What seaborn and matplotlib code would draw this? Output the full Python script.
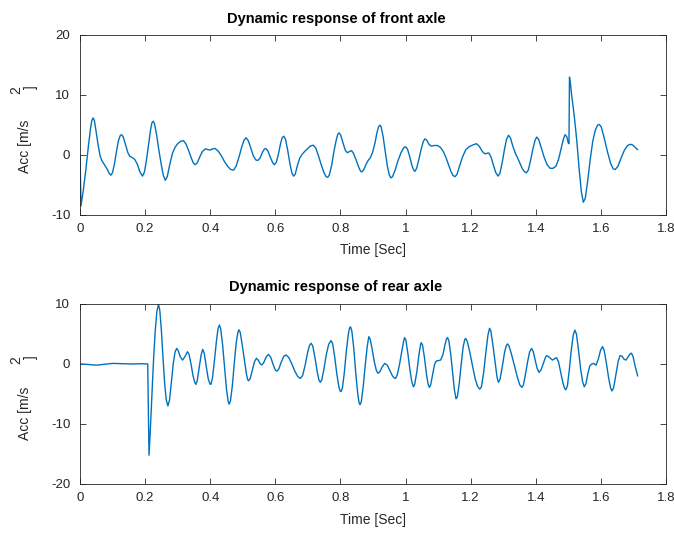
import numpy as np
import pandas as pd
import matplotlib
matplotlib.use("Agg")
import matplotlib.pyplot as plt
import seaborn as sns

# ---------------- data ----------------
front_t = [0, 0.003, 0.010, 0.018, 0.026, 0.032, 0.036, 0.040, 0.044, 0.049, 0.055, 0.062,
           0.068, 0.075, 0.083, 0.090, 0.095, 0.100, 0.106, 0.112, 0.118, 0.124, 0.128, 0.133,
           0.140, 0.147, 0.153, 0.160, 0.168, 0.176, 0.184, 0.192, 0.198, 0.204, 0.211, 0.217,
           0.221, 0.225, 0.229, 0.235, 0.242, 0.250, 0.256, 0.262, 0.268, 0.276, 0.284, 0.292,
           0.300, 0.309, 0.318, 0.326, 0.334, 0.342, 0.348, 0.354, 0.360, 0.368, 0.376, 0.385,
           0.393, 0.400, 0.408, 0.415, 0.424, 0.434, 0.444, 0.454, 0.463, 0.472, 0.480, 0.489,
           0.497, 0.504, 0.510, 0.517, 0.525, 0.533, 0.540, 0.546, 0.553, 0.560, 0.566, 0.571,
           0.577, 0.585, 0.592, 0.597, 0.603, 0.610, 0.616, 0.621, 0.626, 0.631, 0.638, 0.645,
           0.651, 0.656, 0.661, 0.668, 0.675, 0.682, 0.690, 0.698, 0.707, 0.716, 0.724, 0.733,
           0.742, 0.750, 0.756, 0.761, 0.766, 0.773, 0.780, 0.787, 0.792, 0.796, 0.801, 0.808,
           0.815, 0.821, 0.828, 0.834, 0.840, 0.848, 0.856, 0.862, 0.866, 0.871, 0.878, 0.885,
           0.892, 0.899, 0.906, 0.912, 0.917, 0.921, 0.925, 0.931, 0.938, 0.944, 0.950, 0.955,
           0.960, 0.968, 0.977, 0.986, 0.994, 1.000, 1.006, 1.013, 1.020, 1.025, 1.029, 1.034,
           1.041, 1.048, 1.054, 1.059, 1.065, 1.072, 1.079, 1.088, 1.098, 1.107, 1.116, 1.124,
           1.132, 1.140, 1.146, 1.152, 1.158, 1.166, 1.175, 1.185, 1.195, 1.207, 1.218, 1.226,
           1.236, 1.244, 1.250, 1.256, 1.263, 1.270, 1.277, 1.284, 1.290, 1.297, 1.304, 1.310,
           1.316, 1.322, 1.330, 1.338, 1.344, 1.351, 1.359, 1.366, 1.371, 1.377, 1.384, 1.391,
           1.398, 1.403, 1.409, 1.417, 1.426, 1.435, 1.444, 1.453, 1.462, 1.470, 1.478, 1.485,
           1.490, 1.495, 1.500, 1.502, 1.5035, 1.507, 1.510, 1.518, 1.526, 1.533, 1.540, 1.546,
           1.552, 1.559, 1.567, 1.575, 1.583, 1.590, 1.595, 1.601, 1.610, 1.620, 1.630, 1.638,
           1.644, 1.652, 1.662, 1.672, 1.682, 1.690, 1.697, 1.705, 1.713]
front_acc = [0, -8.6, -6.0, -2.5, 1.5, 4.2, 5.6, 6.1, 5.7, 4.0, 1.8, -0.3,
             -1.1, -1.7, -2.4, -3.2, -3.45, -3.0, -1.5, 0.5, 2.3, 3.2, 3.3, 2.9,
             1.6, 0.3, -0.3, -0.5, -0.8, -1.6, -2.9, -3.6, -2.9, -1.0, 1.8, 4.2,
             5.3, 5.55, 5.1, 3.4, 0.8, -1.8, -3.5, -4.3, -3.7, -1.6, 0.2, 1.2,
             1.8, 2.2, 2.3, 1.7, 0.6, -0.6, -1.4, -1.7, -1.4, -0.4, 0.5, 0.95,
             0.8, 0.75, 0.95, 1.0, 0.6, -0.2, -1.2, -2.0, -2.5, -2.6, -1.9, -0.3,
             1.3, 2.4, 2.8, 2.3, 1.0, -0.3, -0.9, -1.0, -0.6, 0.3, 0.9, 1.0,
             0.6, -0.5, -1.4, -1.7, -1.3, 0.2, 1.8, 2.8, 3.05, 2.6, 0.7, -1.6,
             -3.1, -3.6, -3.3, -1.8, -0.6, 0.0, 0.5, 0.9, 1.4, 1.55, 1.1, -0.3,
             -1.9, -3.1, -3.7, -3.8, -3.4, -1.8, 0.5, 2.4, 3.4, 3.6, 3.2, 1.9,
             0.7, 0.3, 0.5, 0.65, 0.2, -0.9, -2.1, -2.8, -2.9, -2.6, -1.7, -1.0,
             -0.5, 0.4, 1.9, 3.6, 4.6, 4.9, 4.6, 3.0, 0.4, -1.9, -3.4, -3.9,
             -3.7, -2.6, -1.0, 0.3, 1.1, 1.3, 0.9, -0.4, -1.9, -2.6, -2.8, -2.3,
             -0.8, 0.9, 2.1, 2.6, 2.4, 1.7, 1.4, 1.5, 1.5, 1.2, 0.5, -0.5,
             -1.7, -2.9, -3.5, -3.7, -3.3, -1.9, -0.4, 0.8, 1.3, 1.6, 1.8, 1.4,
             0.5, 0.1, 0.2, 0.25, -0.5, -1.8, -3.0, -3.6, -3.1, -1.3, 0.9, 2.5,
             3.2, 2.8, 1.3, 0.1, -0.55, -1.4, -2.4, -2.9, -3.05, -2.6, -1.0, 0.9,
             2.4, 2.9, 2.5, 1.1, -0.5, -1.7, -2.3, -2.3, -1.95, -0.8, 1.0, 2.6,
             3.3, 3.0, 1.9, 1.8, 12.9, 11.6, 10.0, 6.5, 2.3, -2.3, -6.2, -7.95,
             -7.3, -4.6, -0.9, 2.2, 4.1, 4.9, 5.0, 4.6, 2.8, 0.5, -1.5, -2.4,
             -2.5, -2.0, -0.6, 0.7, 1.5, 1.7, 1.6, 1.2, 0.8]

rear_t = [0, 0.02, 0.05, 0.075, 0.10, 0.13, 0.16, 0.19, 0.208, 0.212, 0.216, 0.221,
          0.226, 0.231, 0.236, 0.241, 0.245, 0.250, 0.255, 0.260, 0.265, 0.270, 0.275, 0.281,
          0.287, 0.292, 0.297, 0.302, 0.308, 0.315, 0.322, 0.330, 0.335, 0.341, 0.347, 0.352,
          0.356, 0.360, 0.366, 0.372, 0.377, 0.382, 0.388, 0.394, 0.399, 0.402, 0.407, 0.413,
          0.419, 0.424, 0.428, 0.432, 0.438, 0.444, 0.450, 0.455, 0.458, 0.462, 0.468, 0.474,
          0.480, 0.485, 0.488, 0.492, 0.498, 0.505, 0.511, 0.515, 0.518, 0.523, 0.530, 0.536,
          0.542, 0.548, 0.554, 0.559, 0.565, 0.572, 0.579, 0.586, 0.594, 0.600, 0.605, 0.611,
          0.618, 0.626, 0.633, 0.641, 0.650, 0.660, 0.669, 0.677, 0.684, 0.692, 0.699, 0.705,
          0.710, 0.715, 0.722, 0.729, 0.734, 0.738, 0.743, 0.750, 0.757, 0.764, 0.771, 0.776,
          0.782, 0.789, 0.795, 0.799, 0.802, 0.806, 0.812, 0.818, 0.824, 0.828, 0.831, 0.835,
          0.841, 0.847, 0.853, 0.857, 0.860, 0.864, 0.870, 0.876, 0.882, 0.887, 0.891, 0.897,
          0.904, 0.910, 0.915, 0.921, 0.928, 0.936, 0.944, 0.952, 0.960, 0.966, 0.969, 0.974,
          0.981, 0.988, 0.994, 0.997, 1.001, 1.007, 1.013, 1.019, 1.024, 1.028, 1.035, 1.041,
          1.046, 1.048, 1.052, 1.058, 1.064, 1.069, 1.073, 1.077, 1.083, 1.089, 1.094, 1.100,
          1.108, 1.115, 1.121, 1.126, 1.129, 1.133, 1.139, 1.145, 1.150, 1.155, 1.159, 1.165,
          1.171, 1.177, 1.182, 1.185, 1.190, 1.198, 1.206, 1.214, 1.221, 1.228, 1.233, 1.240,
          1.247, 1.253, 1.258, 1.262, 1.268, 1.275, 1.281, 1.285, 1.290, 1.297, 1.304, 1.309,
          1.313, 1.318, 1.326, 1.335, 1.344, 1.351, 1.357, 1.362, 1.368, 1.375, 1.381, 1.387,
          1.392, 1.398, 1.404, 1.410, 1.416, 1.423, 1.429, 1.433, 1.440, 1.451, 1.458, 1.464,
          1.470, 1.477, 1.484, 1.489, 1.492, 1.497, 1.503, 1.509, 1.515, 1.520, 1.525, 1.531,
          1.538, 1.544, 1.549, 1.554, 1.560, 1.566, 1.572, 1.578, 1.585, 1.592, 1.599, 1.605,
          1.610, 1.617, 1.624, 1.630, 1.634, 1.639, 1.646, 1.653, 1.659, 1.665, 1.671, 1.677,
          1.684, 1.690, 1.694, 1.699, 1.705, 1.710, 1.713]
rear_acc = [0, -0.05, -0.2, -0.05, 0.1, 0.05, 0.0, 0.05, 0.0, -15.2, -11.0, -5.0,
            0.8, 5.5, 8.7, 9.95, 9.0, 5.6, 1.0, -3.2, -6.0, -7.0, -6.0, -2.8,
            0.3, 2.0, 2.6, 2.2, 1.2, 0.65, 1.2, 2.05, 1.6, 0.0, -1.9, -3.0,
            -3.4, -2.8, -0.6, 1.5, 2.45, 1.7, -0.5, -2.5, -3.3, -3.4, -2.3, 0.6,
            3.8, 5.9, 6.5, 5.9, 3.2, -0.6, -4.2, -6.2, -6.7, -6.2, -3.6, 0.2,
            3.6, 5.3, 5.7, 5.3, 3.3, 0.6, -1.6, -2.6, -2.8, -2.4, -0.9, 0.4,
            0.95, 0.6, 0.0, -0.15, 0.3, 1.2, 1.6, 1.1, -0.2, -1.0, -1.2, -0.8,
            0.3, 1.3, 1.5, 1.1, 0.1, -1.2, -2.1, -2.4, -1.9, -0.1, 1.9, 3.1,
            3.45, 3.0, 1.0, -1.4, -2.7, -3.05, -2.6, -0.6, 1.7, 3.3, 3.9, 3.4,
            1.3, -1.7, -3.8, -4.5, -4.6, -4.0, -1.4, 2.1, 4.9, 6.0, 6.2, 5.5,
            2.6, -1.5, -4.9, -6.4, -6.8, -6.3, -3.7, -0.3, 2.8, 4.55, 4.2, 2.6,
            0.4, -1.0, -1.55, -1.3, -0.5, 0.1, -0.2, -1.1, -2.0, -2.35, -2.4, -1.9,
            -0.2, 2.0, 3.8, 4.4, 4.0, 1.8, -0.8, -2.9, -3.8, -3.4, -1.2, 1.5,
            3.2, 3.55, 3.2, 1.1, -1.6, -3.3, -3.9, -3.5, -1.8, -0.1, 0.5, 0.55,
            0.67, 1.6, 3.2, 4.2, 4.4, 3.9, 1.5, -1.6, -4.3, -5.8, -5.5, -3.2,
            0.0, 2.9, 4.1, 4.25, 3.7, 1.8, -0.4, -2.5, -3.7, -4.2, -3.8, -1.4,
            2.1, 4.8, 5.95, 5.5, 3.3, 0.3, -2.2, -3.05, -2.6, -0.5, 1.9, 3.0,
            3.35, 3.0, 1.5, -0.4, -2.3, -3.5, -3.9, -3.5, -1.8, 0.4, 2.0, 2.6,
            2.1, 0.7, -0.7, -1.4, -1.0, 0.1, 1.0, 1.4, 1.2, 0.65, 0.9, 1.05,
            0.3, -1.5, -3.3, -4.1, -4.3, -3.7, -1.0, 2.3, 4.8, 5.65, 5.0, 2.4,
            -0.9, -3.0, -3.8, -3.3, -1.6, -0.3, 0.0, 0.1, -0.2, 0.8, 2.3, 2.9,
            2.3, 0.1, -2.4, -4.0, -4.5, -4.0, -1.8, 0.4, 1.4, 1.3, 0.8, 0.65,
            1.2, 1.7, 1.8, 1.2, -0.3, -1.4, -2.0]

titles = ["Dynamic response of front axle", "Dynamic response of rear axle"]
x_ticks = [0, 0.2, 0.4, 0.6, 0.8, 1.0, 1.2, 1.4, 1.6, 1.8]
x_tick_labels = ["0", "0.2", "0.4", "0.6", "0.8", "1", "1.2", "1.4", "1.6", "1.8"]
front_yticks = [-10, 0, 10, 20]
rear_yticks = [-20, -10, 0, 10]

# ---------------- style ----------------
sns.set_theme(style="white")
plt.rcParams["font.family"] = ["Liberation Sans", "DejaVu Sans"]

W, H = 674, 541
fig = plt.figure(figsize=(W / 100, H / 100), dpi=100)

def px_rect(l, t, r, b):
    return [l / W, 1 - b / H, (r - l) / W, (b - t) / H]

ax1 = fig.add_axes(px_rect(80, 34.5, 666, 214.5))
ax2 = fig.add_axes(px_rect(80, 304, 666, 484))

line_col = "#0072BD"
axis_col = "#262626"
text_col = "#262626"

front_df = pd.DataFrame({"t": front_t, "acc": front_acc})
rear_df = pd.DataFrame({"t": rear_t, "acc": rear_acc})

for df, ax in [(front_df, ax1), (rear_df, ax2)]:
    sns.lineplot(data=df, x="t", y="acc", ax=ax, color=line_col, lw=1.0,
                 estimator=None, sort=False)
    for ln in ax.lines:
        ln.set_solid_joinstyle("round")

for ax, yt, ylim in [(ax1, front_yticks, (-10, 20)), (ax2, rear_yticks, (-20, 10))]:
    ax.set_xlim(0, 1.8)
    ax.set_ylim(*ylim)
    ax.set_xticks(x_ticks)
    ax.set_xticklabels(x_tick_labels)
    ax.set_yticks(yt)
    ax.set_yticklabels([str(v) for v in yt])
    ax.tick_params(direction="in", length=4.5, width=0.6, color=axis_col,
                   labelsize=9.5, labelcolor=text_col, top=True, right=True,
                   bottom=True, left=True)
    ax.tick_params(axis="x", pad=6)
    ax.tick_params(axis="y", pad=7)
    for s in ax.spines.values():
        s.set_visible(True)
        s.set_color(axis_col)
        s.set_linewidth(0.6)
    ax.set_xlabel("Time [Sec]", fontsize=10, color=text_col, labelpad=6)
    ax.set_ylabel("")
    ax.grid(False)

def ftext(x, y, s, **kw):
    fig.text(x / W, 1 - y / H, s, **kw)

# titles (bold, slightly left of axes centre as in the reference)
ftext(336, 23, titles[0], ha="center", va="baseline", fontsize=10.5,
      fontweight="bold", color="black")
ftext(336, 291, titles[1], ha="center", va="baseline", fontsize=10.5,
      fontweight="bold", color="black")

# y labels composed like the reference: "Acc [m/s", raised "2", "]"
for yc, y2, yb in [(146.5, 90, 87), (413.5, 360, 357)]:
    ftext(25, yc, "Acc [m/s", rotation=90, ha="center", va="center",
          fontsize=10, color=text_col)
    ftext(16.5, y2, "2", rotation=90, ha="center", va="center",
          fontsize=10, color=text_col)
    ftext(30.5, yb, "]", rotation=90, ha="center", va="center",
          fontsize=10, color=text_col)

fig.savefig("out.png", dpi=100, facecolor="white")
